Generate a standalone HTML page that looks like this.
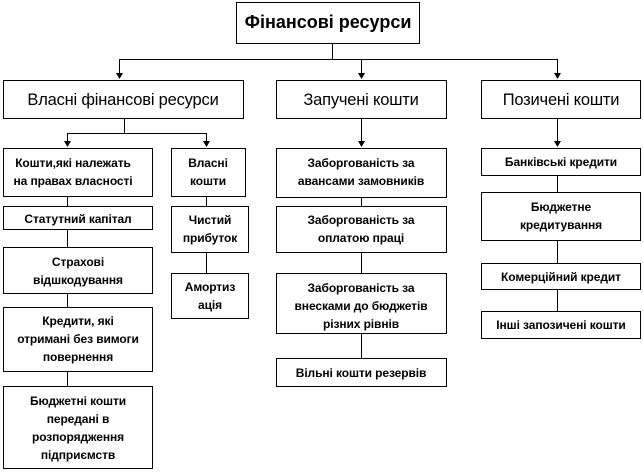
<!DOCTYPE html>
<html><head><meta charset="utf-8"><style>
html,body{margin:0;padding:0;background:#fff;}
svg{display:block;}
text{font-family:"Liberation Sans",sans-serif;text-anchor:middle;fill:#000;}
.s{font-size:12px;font-weight:bold;letter-spacing:-0.1px;}
.m{font-size:16.5px;letter-spacing:-0.2px;}
</style></head><body>
<svg width="643" height="473" viewBox="0 0 643 473" xmlns="http://www.w3.org/2000/svg">
<g fill="#fff" stroke="#000" stroke-width="1">
<rect x="236.5" y="2.5" width="183" height="41"/>
<rect x="3.5" y="80.5" width="240" height="38"/>
<rect x="276.5" y="80.5" width="170" height="38"/>
<rect x="481.5" y="80.5" width="159" height="38"/>
<rect x="3.5" y="148.5" width="149" height="48"/>
<rect x="171.5" y="148.5" width="74" height="48"/>
<rect x="3.5" y="206.5" width="149" height="23"/>
<rect x="171.5" y="206.5" width="77" height="46"/>
<rect x="3.5" y="247.5" width="149" height="46"/>
<rect x="171.5" y="273.5" width="77" height="45"/>
<rect x="3.5" y="307.5" width="149" height="64"/>
<rect x="3.5" y="386.5" width="149" height="82"/>
<rect x="276.5" y="148.5" width="170" height="49"/>
<rect x="276.5" y="206.5" width="170" height="46"/>
<rect x="276.5" y="273.5" width="170" height="60"/>
<rect x="276.5" y="358.5" width="170" height="28"/>
<rect x="481.5" y="148.5" width="159" height="27"/>
<rect x="481.5" y="192.5" width="159" height="48"/>
<rect x="481.5" y="263.5" width="159" height="26"/>
<rect x="481.5" y="311.5" width="159" height="27"/>
</g>
<g stroke="#000" stroke-width="1" fill="none">
<path d="M332.5 43v16M119.5 59.5h438M119.5 59v16M361.5 59v16M557.5 59v16"/>
<path d="M124.5 118v15M67.5 133.5h139M67.5 133v10M206.5 133v10"/>
<path d="M361.5 118v25M557.5 118v25"/>
<path d="M67.5 196v10M67.5 229v18M67.5 293v14M67.5 371v15"/>
<path d="M206.5 196v10M206.5 252v21"/>
<path d="M361.5 197v9M361.5 252v21M361.5 333v25"/>
<path d="M557.5 175v17M557.5 240v23M557.5 289v22"/>
</g>
<g fill="#000">
<path d="M116 73h7l-3.5 6z"/><path d="M358 73h7l-3.5 6z"/><path d="M554 73h7l-3.5 6z"/>
<path d="M64 141h7l-3.5 6z"/><path d="M203 141h7l-3.5 6z"/>
<path d="M358 141h7l-3.5 6z"/><path d="M554 141h7l-3.5 6z"/>
</g>
<text x="328" y="28" style="font-size:18px;font-weight:bold">Фінансові ресурси</text>
<text class="m" x="123" y="105">Власні фінансові ресурси</text>
<text class="m" x="361" y="105">Запучені кошти</text>
<text class="m" x="561" y="105">Позичені кошти</text>
<text class="s" x="73" y="167">Кошти,які належать</text>
<text class="s" x="73" y="185">на правах власності</text>
<text class="s" x="208" y="167">Власні</text>
<text class="s" x="208" y="185">кошти</text>
<text class="s" x="78" y="223">Статутний  капітал</text>
<text class="s" x="210" y="224">Чистий</text>
<text class="s" x="210" y="242">прибуток</text>
<text class="s" x="78" y="266">Страхові</text>
<text class="s" x="78" y="284">відшкодування</text>
<text class="s" x="210" y="291">Амортиз</text>
<text class="s" x="210" y="309">ація</text>
<text class="s" x="78" y="325">Кредити,  які</text>
<text class="s" x="78" y="343">отримані  без  вимоги</text>
<text class="s" x="78" y="361">повернення</text>
<text class="s" x="78" y="405">Бюджетні кошти</text>
<text class="s" x="78" y="423">передані  в</text>
<text class="s" x="78" y="441">розпорядження</text>
<text class="s" x="78" y="459">підприємств</text>
<text class="s" x="361" y="167">Заборгованість  за</text>
<text class="s" x="361" y="185">авансами  замовників</text>
<text class="s" x="361" y="224">Заборгованість  за</text>
<text class="s" x="361" y="242">оплатою  праці</text>
<text class="s" x="361" y="292">Заборгованість  за</text>
<text class="s" x="361" y="310">внесками до бюджетів</text>
<text class="s" x="361" y="328">різних рівнів</text>
<text class="s" x="361" y="377">Вільні кошти резервів</text>
<text class="s" x="561" y="166">Банківські кредити</text>
<text class="s" x="561" y="211">Бюджетне</text>
<text class="s" x="561" y="229">кредитування</text>
<text class="s" x="561" y="281">Комерційний  кредит</text>
<text class="s" x="561" y="329">Інші запозичені  кошти</text>
</svg>
</body></html>
